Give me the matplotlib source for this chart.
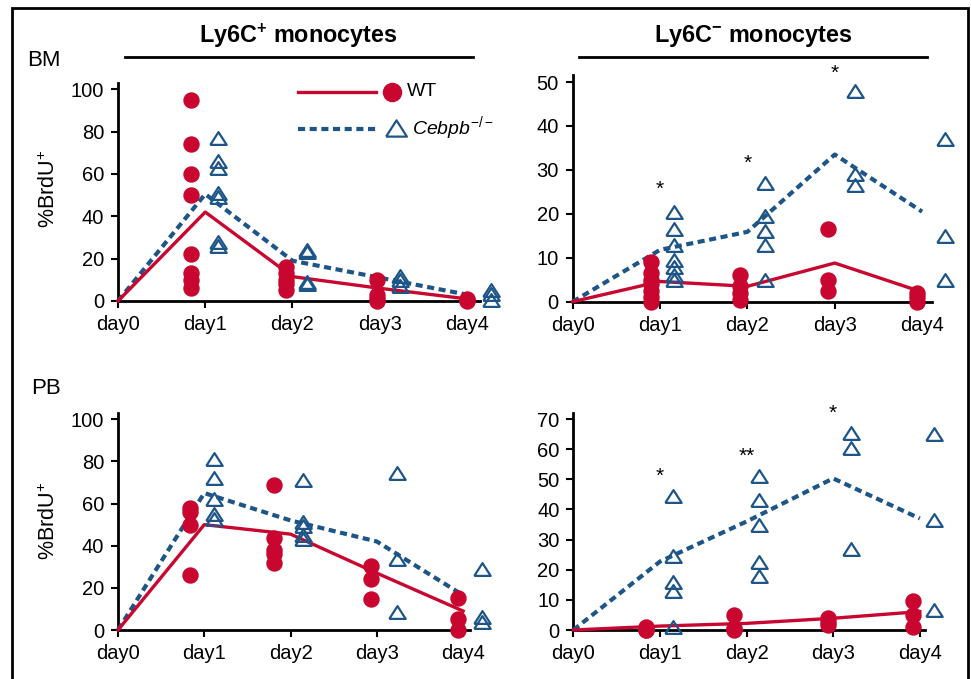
import matplotlib
matplotlib.use("Agg")
import matplotlib.pyplot as plt
from matplotlib.lines import Line2D
from matplotlib.patches import Rectangle

plt.rcParams['font.family'] = ['Liberation Sans', 'DejaVu Sans']
plt.rcParams['mathtext.fontset'] = 'custom'
plt.rcParams['mathtext.rm'] = 'Liberation Sans'
plt.rcParams['mathtext.it'] = 'Liberation Sans:italic'
plt.rcParams['mathtext.bf'] = 'Liberation Sans:bold'

# ---------------- data ----------------
days = [0, 1, 2, 3, 4]
day_labels = ["day0", "day1", "day2", "day3", "day4"]

# BM, Ly6C+ monocytes
bm_hi_wt_pts = [[95, 74, 60, 50, 22, 13, 10, 6], [16, 13, 10, 8, 5], [10, 3, 1, 0], [1, 0.5, 0]]
bm_hi_ko_pts = [[77, 66, 63, 51, 49, 28, 26], [24, 23, 9, 8], [12, 10, 7], [5, 3.5, 0.5]]
bm_hi_wt_line = [0, 42, 11.5, 6, 1]
bm_hi_ko_line = [0, 50.5, 19, 11, 3]

# BM, Ly6C- monocytes
bm_lo_wt_pts = [[9, 6.5, 5, 4, 2.5, 1, 0], [6, 3.5, 2, 0.5], [16.5, 5, 2.5], [2, 1, 0]]
bm_lo_ko_pts = [[20.5, 16.5, 13, 9.5, 8, 6, 5], [27, 19.5, 16, 13, 5], [48, 29, 26.5], [37, 15, 5]]
bm_lo_wt_line = [0, 4.6, 3.5, 8.8, 2.2]
bm_lo_ko_line = [0, 11.8, 15.9, 33.5, 20.5]
bm_lo_stars = ["*", "*", "*", ""]
bm_lo_star_y = [25.5, 31.5, 52, None]

# PB, Ly6C+ monocytes
pb_hi_wt_pts = [[58, 56, 50, 26], [69, 43.5, 38, 36, 32], [30.5, 24, 14.5], [15, 5, 0]]
pb_hi_ko_pts = [[81, 72, 62, 55, 52.5], [71, 51.5, 49.5, 45, 43], [74.5, 33.5, 8.5], [29, 6, 4]]
pb_hi_wt_line = [0, 50, 45.5, 27, 9]
pb_hi_ko_line = [0, 65, 52, 42, 16.5]

# PB, Ly6C- monocytes
pb_lo_wt_pts = [[1, 0, 0], [5, 0.5, 0], [4, 2.5, 1.5], [9.5, 5, 1]]
pb_lo_ko_pts = [[44.5, 24.5, 16, 13, 1], [51, 43, 35, 22.5, 18], [65.5, 60.5, 27], [65, 36.5, 6.5]]
pb_lo_wt_line = [0, 1.3, 2.2, 3.9, 6.1]
pb_lo_ko_line = [0, 22.7, 36, 50.3, 37]
pb_lo_stars = ["*", "**", "*", ""]
pb_lo_star_y = [51, 57.5, 72, None]

# ---------------- style ----------------
RED = '#C8062F'
BLUE = '#1D5588'
DASH = (0, (1.7, 1.1))
TRI = [(-1, -0.78), (1, -0.78), (0, 0.78), (-1, -0.78)]
W, H = 971, 679

fig = plt.figure(figsize=(W / 100, H / 100), dpi=100)


def fx(px):
    return px / W


def fy(py):
    return 1 - py / H


def make_ax(left, right, bottom, top):
    return fig.add_axes([fx(left), fy(bottom), fx(right - left), (bottom - top) / H])


panels = [
    dict(box=(118, 480, 301, 82.9), xr=4.149, ylim=103, yticks=[0, 20, 40, 60, 80, 100],
         wt=bm_hi_wt_pts, ko=bm_hi_ko_pts, wl=bm_hi_wt_line, kl=bm_hi_ko_line,
         off=[(-0.16, 0.15), (-0.08, 0.17), (-0.03, 0.23), (0.0, 0.28)], stars=None),
    dict(box=(572.7, 931.7, 301.7, 75), xr=4.11, ylim=51.6, yticks=[0, 10, 20, 30, 40, 50],
         wt=bm_lo_wt_pts, ko=bm_lo_ko_pts, wl=bm_lo_wt_line, kl=bm_lo_ko_line,
         off=[(-0.1, 0.16), (-0.09, 0.2), (-0.08, 0.23), (-0.06, 0.26)],
         stars=(bm_lo_stars, bm_lo_star_y)),
    dict(box=(118, 470, 630, 413), xr=4.08, ylim=103, yticks=[0, 20, 40, 60, 80, 100],
         wt=pb_hi_wt_pts, ko=pb_hi_ko_pts, wl=pb_hi_wt_line, kl=pb_hi_ko_line,
         off=[(-0.17, 0.11), (-0.19, 0.15), (-0.07, 0.23), (-0.06, 0.22)], stars=None),
    dict(box=(573.3, 925, 630, 413.3), xr=4.06, ylim=71.9, yticks=[0, 10, 20, 30, 40, 50, 60, 70],
         wt=pb_lo_wt_pts, ko=pb_lo_ko_pts, wl=pb_lo_wt_line, kl=pb_lo_ko_line,
         off=[(-0.16, 0.15), (-0.15, 0.14), (-0.06, 0.2), (-0.08, 0.16)],
         stars=(pb_lo_stars, pb_lo_star_y)),
]

for p in panels:
    ax = make_ax(*p['box'])
    ax.set_xlim(0, p['xr'])
    ax.set_ylim(0, p['ylim'])
    for s in ['top', 'right']:
        ax.spines[s].set_visible(False)
    for s in ['left', 'bottom']:
        ax.spines[s].set_linewidth(2)
        ax.spines[s].set_zorder(2)
    ax.set_xticks(days)
    ax.set_xticklabels(day_labels)
    ax.set_yticks(p['yticks'])
    ax.tick_params(axis='both', direction='out', length=5, width=1.5, labelsize=14.5, pad=5)
    ax.patch.set_visible(False)

    ax.plot(days, p['kl'], color=BLUE, lw=3, ls=DASH, zorder=3, clip_on=False)
    ax.plot(days, p['wl'], color=RED, lw=2.4, zorder=3, clip_on=False)

    for i, d in enumerate(days[1:]):
        ow, ok = p['off'][i]
        ys = p['wt'][i]
        ax.plot([d + ow] * len(ys), ys, ls='none', marker='o', ms=10.8, color=RED,
                mec=RED, zorder=4, clip_on=False)
        ys = p['ko'][i]
        ax.plot([d + ok] * len(ys), ys, ls='none', marker=TRI, ms=11.8, mfc='none',
                mec=BLUE, mew=1.6, zorder=4, clip_on=False)

    if p['stars'] is not None:
        labels, ypos = p['stars']
        for i, d in enumerate(days[1:]):
            if labels[i]:
                ax.text(d, ypos[i], labels[i], ha='center', va='center', fontsize=15,
                        clip_on=False)

# y labels and row labels
for yc in [189, 521]:
    fig.text(fx(49), fy(yc), r'%BrdU$^{+}$', rotation=90, ha='center', va='center', fontsize=15.5)
fig.text(fx(27), fy(60), 'BM', ha='left', va='center', fontsize=16)
fig.text(fx(31), fy(389), 'PB', ha='left', va='center', fontsize=16)

# column titles with underlines
fig.text(fx(298), fy(36), r'Ly6C$^{\mathbf{+}}$ monocytes', ha='center', va='center',
         fontsize=16.8, fontweight='bold')
fig.text(fx(753), fy(36), r'Ly6C$^{\mathbf{-}}$ monocytes', ha='center', va='center',
         fontsize=16.8, fontweight='bold')
fig.add_artist(Line2D([fx(125), fx(473)], [fy(57), fy(57)], color='black', lw=2))
fig.add_artist(Line2D([fx(579), fx(927)], [fy(57), fy(57)], color='black', lw=2))

# legend (drawn in the top-left panel area)
fig.add_artist(Line2D([fx(298), fx(376)], [fy(92), fy(92)], color=RED, lw=2.4))
fig.add_artist(Line2D([fx(392)], [fy(92)], marker='o', ms=13, color=RED, ls='none'))
fig.text(fx(407), fy(92), 'WT', ha='left', va='center', fontsize=14)
fig.add_artist(Line2D([fx(298), fx(376)], [fy(129), fy(129)], color=BLUE, lw=3, ls=DASH))
fig.add_artist(Line2D([fx(396)], [fy(128)], marker=TRI, ms=15, mfc='none', mec=BLUE,
                      mew=1.6, ls='none'))
fig.text(fx(412), fy(128), r'$\mathit{Cebpb}^{-/-}$', ha='left', va='center', fontsize=14)

# outer frame
fig.add_artist(Rectangle((fx(12), -0.02), fx(968 - 12), fy(8) + 0.02, fill=False,
                         edgecolor='black', lw=2, transform=fig.transFigure))

fig.savefig('out.png', dpi=100)
